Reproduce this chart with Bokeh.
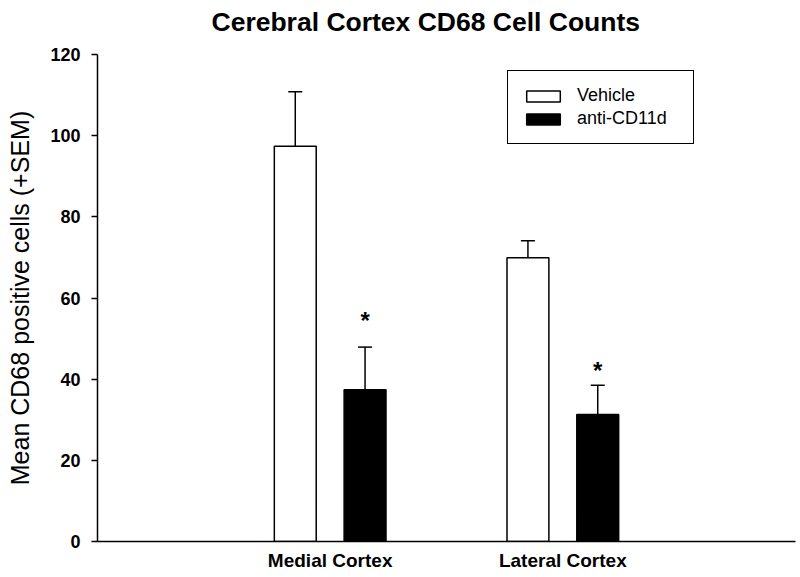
from bokeh.plotting import figure
from bokeh.models import (Range1d, FixedTicker, Whisker, ColumnDataSource,
                          Legend, LegendItem, TeeHead, Title)
from bokeh.core.properties import value
from bokeh.embed import file_html
from bokeh.resources import INLINE

# ---- data ----
regions = ["Medial Cortex", "Lateral Cortex"]
series = ["Vehicle", "anti-CD11d"]
vehicle_mean = [97.4, 69.9]
vehicle_sem = [13.4, 4.2]
anti_mean = [37.4, 31.3]
anti_sem = [10.5, 7.2]
star_level = [54.4, 42.2]          # level of the "*" significance marks (anti-CD11d)
y_ticks = [0, 20, 40, 60, 80, 100, 120]
title_text = "Cerebral Cortex CD68 Cell Counts"
y_label = "Mean CD68 positive cells (+SEM)"

FONT = "Liberation Sans"
group_x = [i + 1 for i in range(len(regions))]
OFF = 0.15
BAR_W = 0.18

src_v = ColumnDataSource(dict(
    x=[g - OFF for g in group_x], top=vehicle_mean,
    upper=[m + s for m, s in zip(vehicle_mean, vehicle_sem)]))
src_a = ColumnDataSource(dict(
    x=[g + OFF for g in group_x], top=anti_mean,
    upper=[m + s for m, s in zip(anti_mean, anti_sem)],
    star=star_level, txt=["*"] * len(anti_mean)))

p = figure(width=796, height=577, output_backend="svg", toolbar_location=None,
           title=None,
           x_range=Range1d(0, 3), y_range=Range1d(0, 120),
           min_border_left=97, min_border_right=1, min_border_top=54,
           min_border_bottom=36)
p.outline_line_color = None
p.xgrid.visible = False
p.ygrid.visible = False
p.background_fill_color = "white"

# title: a thin spacer next to the frame, then the real title above it
spacer = Title(text=" ", text_font_size="1px", standoff=13)
main_title = Title(text=title_text, align="left", vertical_align="top",
                   offset=114, standoff=0, text_font=FONT,
                   text_font_size="26.5px", text_font_style="bold",
                   text_color="black")
p.add_layout(spacer, "above")
p.add_layout(main_title, "above")

r_v = p.vbar(x="x", top="top", bottom=0, width=BAR_W, source=src_v,
             fill_color="white", line_color="black", line_width=1.5)
r_a = p.vbar(x="x", top="top", bottom=0, width=BAR_W, source=src_a,
             fill_color="black", line_color="black", line_width=1.5)

for src in (src_v, src_a):
    w = Whisker(source=src, base="x", lower="top", upper="upper",
                dimension="height", line_color="black", line_width=1.5,
                upper_head=TeeHead(size=14, line_width=1.5, line_color="black"),
                lower_head=None)
    p.add_layout(w)

p.text(x="x", y="star", text="txt", source=src_a, text_align="center",
       text_baseline="alphabetic", text_font=value(FONT),
       text_font_size="24px", text_font_style="bold", text_color="black")

# axes
yax = p.yaxis[0]
yax.ticker = FixedTicker(ticks=y_ticks)
yax.minor_tick_line_color = None
yax.major_tick_out = 6
yax.major_tick_in = 0
yax.major_tick_line_width = 1.5
yax.axis_line_width = 1.5
yax.major_label_standoff = 11
yax.major_label_text_font = FONT
yax.major_label_text_font_style = "bold"
yax.major_label_text_font_size = "18px"
yax.major_label_text_color = "black"
yax.axis_label = y_label
yax.axis_label_text_font = FONT
yax.axis_label_text_font_style = "normal"
yax.axis_label_text_font_size = "25px"
yax.axis_label_text_color = "black"
yax.axis_label_standoff = 13

xax = p.xaxis[0]
xax.ticker = FixedTicker(ticks=group_x)
xax.major_label_overrides = {g: r for g, r in zip(group_x, regions)}
xax.minor_tick_line_color = None
xax.major_tick_out = 0
xax.major_tick_in = 0
xax.axis_line_width = 1.5
xax.major_label_standoff = 8
xax.major_label_text_font = FONT
xax.major_label_text_font_style = "bold"
xax.major_label_text_font_size = "19px"
xax.major_label_text_color = "black"

legend = Legend(items=[LegendItem(label=series[0], renderers=[r_v]),
                       LegendItem(label=series[1], renderers=[r_a])],
                location=(410, 397), glyph_width=42, glyph_height=14,
                label_standoff=13, padding=14, spacing=2, margin=0,
                label_text_font=FONT, label_text_font_size="18px",
                label_text_color="black", label_width=102,
                border_line_color="black", border_line_alpha=1.0,
                border_line_width=1.5, background_fill_alpha=1.0)
p.add_layout(legend)

open("out.html", "w").write(file_html(p, INLINE))
